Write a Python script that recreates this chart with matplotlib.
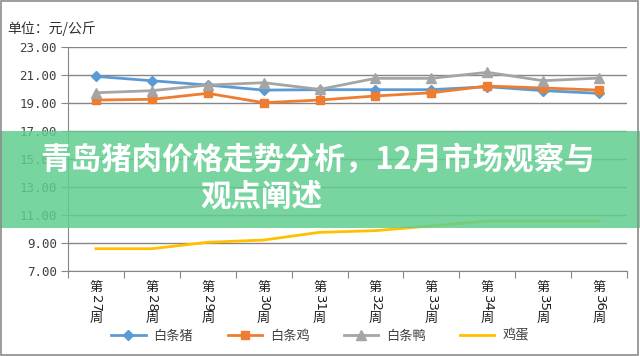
import matplotlib.pyplot as plt
from matplotlib.patches import Rectangle
import numpy as np

plt.rcParams['font.family'] = ['Noto Sans CJK SC', 'DejaVu Sans']

weeks = ['27', '28', '29', '30', '31', '32', '33', '34', '35', '36']
pork = [20.88, 20.57, 20.26, 19.9, 19.93, 19.93, 19.93, 20.14, 19.86, 19.67]
chicken = [19.19, 19.24, 19.67, 19.0, 19.19, 19.48, 19.71, 20.19, 20.05, 19.9]
duck = [19.71, 19.86, 20.26, 20.43, 19.95, 20.74, 20.74, 21.17, 20.57, 20.76]
egg = [8.57, 8.57, 9.03, 9.19, 9.74, 9.86, 10.2, 10.55, 10.55, 10.55]
names = ['白条猪', '白条鸡', '白条鸭', '鸡蛋']
yticks = [7, 9, 11, 13, 15, 17, 19, 21, 23]

fig = plt.figure(figsize=(6.4, 3.56), dpi=100)
ax = fig.add_axes([68 / 640, 1 - 270.7 / 356, 559 / 640, 224 / 356])
x = np.arange(len(weeks))

ax.plot(x, pork, color='#5b9bd5', lw=2, marker='D', ms=5, label=names[0])
ax.plot(x, chicken, color='#ed7d31', lw=2, marker='s', ms=6, label=names[1])
ax.plot(x, duck, color='#a5a5a5', lw=2, marker='^', ms=7, label=names[2])
ax.plot(x, egg, color='#ffc000', lw=2, label=names[3])

ax.set_xlim(-0.5, 9.5)
ax.set_ylim(7, 23)
ax.set_yticks(yticks)
ax.set_yticklabels(['%.2f' % v for v in yticks], family='DejaVu Sans Mono',
                   fontsize=9, color='#404040')
ax.yaxis.grid(True, color='#868686', lw=1)
ax.set_axisbelow(True)
ax.tick_params(axis='y', length=5, color='#868686', pad=3)
for s in ['top', 'right']:
    ax.spines[s].set_visible(False)
for s in ['left', 'bottom']:
    ax.spines[s].set_color('#868686')

ax.set_xticks(np.arange(-0.5, 10, 1))
ax.set_xticklabels([])
ax.tick_params(axis='x', length=5, color='#868686', direction='out')

# stacked vertical week labels
tr = ax.get_xaxis_transform()
for i, w in enumerate(weeks):
    ax.annotate('第', (i, 0), xycoords=tr, xytext=(0, -17), textcoords='offset pixels',
                ha='center', va='center', fontsize=9.5, color='#202020')
    ax.annotate(w, (i, 0), xycoords=tr, xytext=(0, -33), textcoords='offset pixels',
                ha='center', va='center', fontsize=9.5, color='#202020', rotation=-90,
                family='DejaVu Sans')
    ax.annotate('周', (i, 0), xycoords=tr, xytext=(0, -48), textcoords='offset pixels',
                ha='center', va='center', fontsize=9.5, color='#202020')

fig.legend(loc='center', bbox_to_anchor=(0.5, 1 - 336 / 356), ncol=4, frameon=False,
           fontsize=9.5, handlelength=2.6, columnspacing=2.6, handletextpad=0.6,
           labelcolor='#404040')

fig.text(7 / 640, 1 - 29 / 356, '单位：元/公斤', fontsize=10, color='#303030',
         va='center', ha='left')

# green banner
fig.patches.append(Rectangle((0, 1 - 227.5 / 356), 1, 97 / 356, transform=fig.transFigure,
                             facecolor=(0.376, 0.806, 0.561), alpha=0.85, zorder=10,
                             edgecolor='none'))
fig.text(317 / 640, 1 - 160 / 356, '青岛猪肉价格走势分析，12月市场观察与', fontsize=22,
         weight='bold', color='white', ha='center', va='center', zorder=11)
fig.text(261 / 640, 1 - 197 / 356, '观点阐述', fontsize=22,
         weight='bold', color='white', ha='center', va='center', zorder=11)

# outer frame
fig.patches.append(Rectangle((0.001, 0.003), 0.996, 0.995, transform=fig.transFigure,
                             facecolor='none', edgecolor='#8c8c8c', lw=1.2, zorder=12))

fig.savefig('out.png', dpi=100)
